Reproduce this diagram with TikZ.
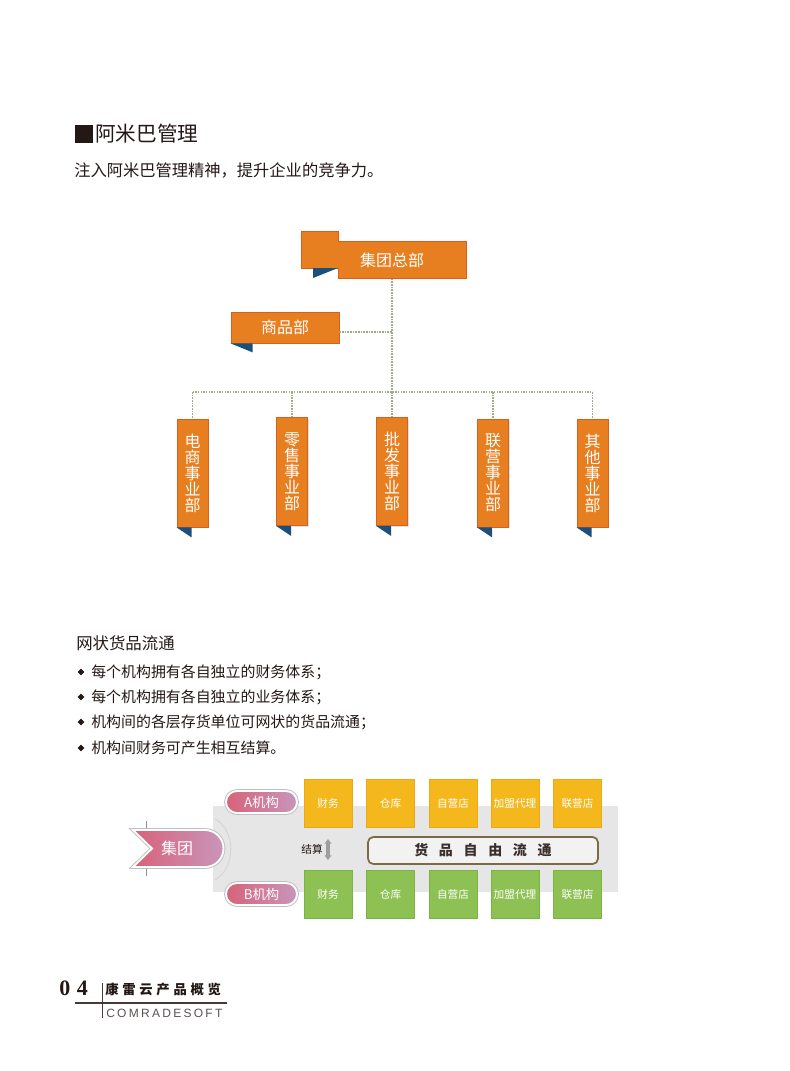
\documentclass[tikz,border=0pt]{standalone}
\usepackage{fontspec}
\setmainfont{Noto Sans CJK SC}
\newfontfamily\serifdig{Liberation Serif}
\newfontfamily\compfont[LetterSpace=19]{Liberation Sans}
\newfontfamily\footcjk[LetterSpace=28]{Noto Sans CJK SC}
\usetikzlibrary{calc,shadows,arrows.meta}
\definecolor{ink}{HTML}{231815}
\definecolor{orgfill}{HTML}{E77E1F}
\definecolor{orgedge}{HTML}{D9601C}
\definecolor{foldblue}{HTML}{1D4F7C}
\definecolor{dotline}{HTML}{9FAE86}
\definecolor{yel}{HTML}{F4B81D}
\definecolor{yeledge}{HTML}{EBA817}
\definecolor{grn}{HTML}{8DC153}
\definecolor{grnedge}{HTML}{7CB443}
\definecolor{bandgray}{HTML}{E6E6E6}
\definecolor{pinkL}{HTML}{D8627A}
\definecolor{pinkR}{HTML}{C896BA}
\definecolor{flowedge}{HTML}{7B6A46}
\definecolor{flowfill}{HTML}{F2F2F2}
\begin{document}
\begin{tikzpicture}[x=0.75pt,y=-0.75pt,
  conn/.style={draw=dotline,line width=1pt,dash pattern=on 1.2pt off 0.8pt},
  orgshadow/.style={drop shadow={opacity=0.22,shadow xshift=0.8pt,shadow yshift=-0.8pt}},
  orgbox/.style={fill=orgfill,draw=orgedge,line width=0.6pt,text=white,inner sep=0pt,orgshadow},
  vbox/.style={orgbox,minimum width=23.25pt,minimum height=81pt,align=center,
     font=\fontsize{12}{12}\selectfont},
  hbox/.style={orgbox,minimum width=81pt,minimum height=23.25pt,font=\fontsize{12}{12}\selectfont},
  fold/.style={fill=foldblue},
  cell/.style={minimum width=36pt,minimum height=36pt,inner sep=0pt,text=white,
     font=\fontsize{8}{9}\selectfont,line width=0.6pt},
  ycell/.style={cell,fill=yel,draw=yeledge},
  gcell/.style={cell,fill=grn,draw=grnedge},
  pill/.style={left color=pinkL,right color=pinkR,draw=white,line width=1.4pt,
     preaction={draw=black!25,line width=2.8pt},rounded corners=8.25pt,
     minimum width=53.25pt,minimum height=16.5pt,inner sep=0pt,text=white,
     font=\fontsize{10}{10}\selectfont},
  bodytext/.style={anchor=west,inner sep=0pt,text=ink},
]
\useasboundingbox (0,0) rectangle (789,1071);

% ---------- title ----------
\fill[ink] (75,125) rectangle (93,143);
\node[bodytext,font=\fontsize{15.5}{16}\selectfont] (title) at (95,134) {阿米巴管理};
\node[bodytext,font=\fontsize{12.2}{13}\selectfont] (sub) at (74,170) {注入阿米巴管理精神，提升企业的竞争力。};

% ---------- org chart ----------
\filldraw[fill=orgfill,draw=orgedge,line width=0.6pt,orgshadow]
  (301,231) -- (338,231) -- (338,241) -- (466,241) -- (466,278) -- (338,278) -- (338,268) -- (301,268) -- cycle;
\fill[fold] (313,268) -- (338,268) -- (313,278) -- cycle;
\node[text=white,inner sep=0pt,minimum height=27.75pt,font=\fontsize{12}{12}\selectfont] (hq) at (392,260) {集团总部};

\node[hbox] (sp) at (285,327.5) {商品部};
\fill[fold] (sp.south west) -- ($(sp.south west)+(22,0)$) -- ($(sp.south west)+(22,9)$) -- cycle;

\node[vbox] (d1) at (192.5,473) {电\\商\\事\\业\\部};
\node[vbox] (d2) at (292,471.5) {零\\售\\事\\业\\部};
\node[vbox] (d3) at (392,471.5) {批\\发\\事\\业\\部};
\node[vbox] (d4) at (493,473) {联\\营\\事\\业\\部};
\node[vbox] (d5) at (592.5,473) {其\\他\\事\\业\\部};
\foreach \i in {1,...,5}{
  \fill[fold] (d\i.south west) -- ($(d\i.south west)+(15,0)$) -- ($(d\i.south west)+(15,10)$) -- cycle;
}

\coordinate (bus) at (392,392);
\coordinate (j1) at (392,332);
\draw[conn] (hq.south) -- (bus);
\draw[conn] (sp.east |- j1) -- (j1);
\draw[conn] (d1.north |- bus) -- (d5.north |- bus);
\foreach \i in {1,...,5}{
  \draw[conn] (d\i.north |- bus) -- (d\i.north);
}

% ---------- bullet list ----------
\node[bodytext,font=\fontsize{12.3}{13}\selectfont] (h2) at (76,643) {网状货品流通};
\foreach \y/\t in {672/每个机构拥有各自独立的财务体系；,697/每个机构拥有各自独立的业务体系；,722/机构间的各层存货单位可网状的货品流通；,748/机构间财务可产生相互结算。}{
  \fill[ink] (81,\y-3.3) -- (84.3,\y) -- (81,\y+3.3) -- (77.7,\y) -- cycle;
  \node[bodytext,font=\fontsize{11.2}{12}\selectfont] at (91,\y) {\t};
}

% ---------- network diagram ----------
\fill[bandgray] (213,806) rectangle (618,892);
\draw[black!16,line width=0.8pt] (215,819) .. controls (236,830) and (236,868) .. (215,880);

\draw[black!45,line width=0.4pt] (146,821) -- (146,830);
\draw[black!45,line width=0.4pt] (146,867) -- (146,876);
\path[left color=pinkL,right color=pinkR,draw=white,line width=1.4pt,
      preaction={draw=black!25,line width=2.8pt}]
  (133,830) -- (205,830) arc[start angle=-90,end angle=90,radius=18.5] -- (133,867) -- (152,848.5) -- cycle;
\node[text=white,font=\fontsize{12}{12}\selectfont] (grp) at (177,848.5) {集团};

\node[pill] (pa) at (261.5,802) {A机构};
\node[pill] (pb) at (261.5,894) {B机构};

\node[ycell] (ya1) at (328,803) {财务};
\node[ycell] (ya2) at (390.5,803) {仓库};
\node[ycell] (ya3) at (453,803) {自营店};
\node[ycell] (ya4) at (515,803) {加盟代理};
\node[ycell] (ya5) at (577.5,803) {联营店};

\node[gcell] (gb1) at (328,894.5) {财务};
\node[gcell] (gb2) at (390.5,894.5) {仓库};
\node[gcell] (gb3) at (453,894.5) {自营店};
\node[gcell] (gb4) at (515,894.5) {加盟代理};
\node[gcell] (gb5) at (577.5,894.5) {联营店};

\node[text=ink,inner sep=0pt,font=\fontsize{8}{8}\selectfont] (js) at (312,849) {结算};
\coordinate (au) at (328,839);
\coordinate (ad) at (328,860);
\draw[black!38,line width=2.4pt,{Triangle[width=5pt,length=3.5pt]}-{Triangle[width=5pt,length=3.5pt]}] (au) -- (ad);

\node[draw=flowedge,line width=1.3pt,fill=flowfill,rounded corners=4pt,
      minimum width=172.5pt,minimum height=20.25pt,inner sep=0pt,text=ink!90,
      font=\fontsize{10.5}{11}\selectfont\bfseries] (flow) at (483,850.5)
      {货\hspace{8pt}品\hspace{8pt}自\hspace{8pt}由\hspace{8pt}流\hspace{8pt}通};

% ---------- footer ----------
\node[bodytext,font=\serifdig\bfseries\fontsize{16.5}{17}\selectfont] (pg) at (59,988) {0\hspace{5pt}4};
\draw[ink!85,line width=0.8pt] (75,1003) -- (227,1003);
\draw[ink!85,line width=0.6pt] (102,983) -- (102,1018);
\node[bodytext,font=\footcjk\bfseries\fontsize{10}{10}\selectfont] (brand) at (105,989) {康雷云产品概览};
\node[bodytext,text=ink!75,font=\compfont\fontsize{9}{9}\selectfont] (comp) at (106,1013) {COMRADESOFT};
\end{tikzpicture}
\end{document}
